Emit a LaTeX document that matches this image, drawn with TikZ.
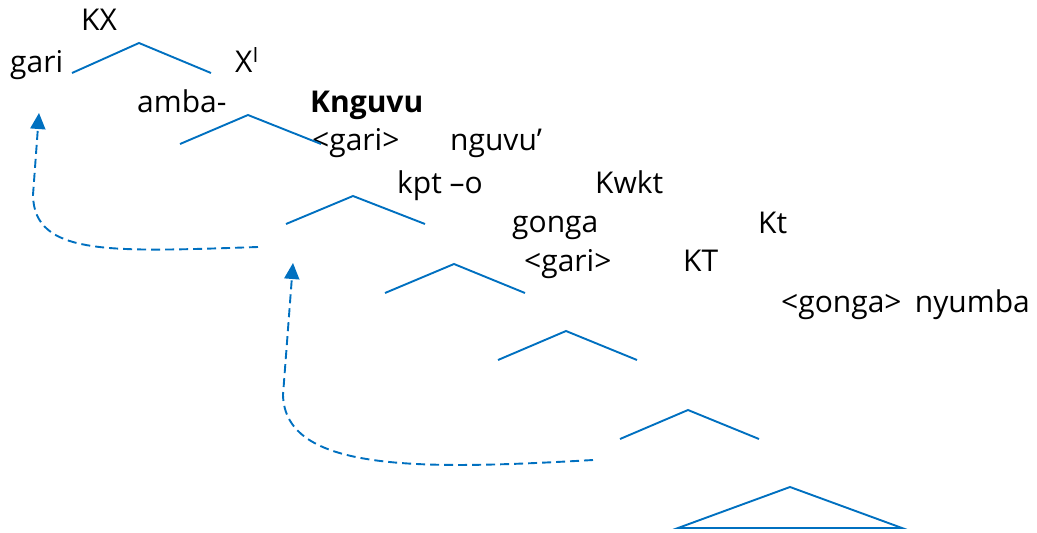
\documentclass[tikz,border=0pt]{standalone}
\usepackage{fontspec}
\setmainfont{Open Sans}
\usetikzlibrary{arrows.meta}
\definecolor{treeblue}{HTML}{0070C0}
\begin{document}
\begin{tikzpicture}[x=1pt,y=-1pt,
  lbl/.style={anchor=base west,inner sep=0pt,font=\fontsize{30}{33}\selectfont},
  branch/.style={draw=treeblue,line width=1.9pt},
  movearrow/.style={draw=treeblue,line width=1.9pt,dash pattern=on 9pt off 5pt,-{Triangle[length=16pt,width=15pt]}}]
\useasboundingbox (0,0) rectangle (1037,533);
% labels
\node[lbl] (kx) at (81,30) {KX};
\node[lbl] (gari) at (10,72) {gari};
\node[lbl] (xbar) at (235,72) {X\textsuperscript{I}};
\node[lbl] (amba) at (137,112) {amba-};
\node[lbl,font=\fontsize{30}{33}\selectfont\bfseries] (knguvu) at (310,112) {Knguvu};
\node[lbl] (gari2) at (312,150) {<gari>};
\node[lbl] (nguvu) at (450,150) {nguvu’};
\node[lbl] (kpt) at (397,193) {kpt –o};
\node[lbl] (kwkt) at (595,193) {Kwkt};
\node[lbl] (gonga) at (512,232) {gonga};
\node[lbl] (kt) at (758,233) {Kt};
\node[lbl] (gari3) at (524,271) {<gari>};
\node[lbl] (KT) at (683,271) {KT};
\node[lbl] (gonga2) at (781,312) {<gonga>};
\node[lbl,anchor=base east] (nyumba) at (1030,312) {nyumba};
% branch coordinates
\coordinate (a1) at (72,73);   \coordinate (t1) at (139,43);  \coordinate (b1) at (211,73);
\coordinate (a2) at (180,144); \coordinate (t2) at (248,115); \coordinate (b2) at (321,144);
\coordinate (a3) at (286,224); \coordinate (t3) at (353,196); \coordinate (b3) at (425,224);
\coordinate (a4) at (385,293); \coordinate (t4) at (454,264); \coordinate (b4) at (525,293);
\coordinate (a5) at (498,360); \coordinate (t5) at (566,331); \coordinate (b5) at (637,360);
\coordinate (a6) at (620,439); \coordinate (t6) at (688,410); \coordinate (b6) at (759,439);
\coordinate (a7) at (678,528); \coordinate (t7) at (790,487); \coordinate (b7) at (902,528);
\path[branch] (a1) -- (t1) -- (b1);
\path[branch] (a2) -- (t2) -- (b2);
\path[branch] (a3) -- (t3) -- (b3);
\path[branch] (a4) -- (t4) -- (b4);
\path[branch] (a5) -- (t5) -- (b5);
\path[branch] (a6) -- (t6) -- (b6);
\path[branch] (a7) -- (t7) -- (b7) -- cycle;
% movement arrows
\coordinate (s1) at (258,247); \coordinate (m1) at (33,195); \coordinate (e1) at (39,113);
\coordinate (s2) at (593,460); \coordinate (m2) at (283,395); \coordinate (e2) at (293,263);
\path[movearrow] (s1) .. controls (110,252) and (34,256) .. (m1) -- (e1);
\path[movearrow] (s2) .. controls (420,470) and (285,472) .. (m2) -- (e2);
\end{tikzpicture}
\end{document}
